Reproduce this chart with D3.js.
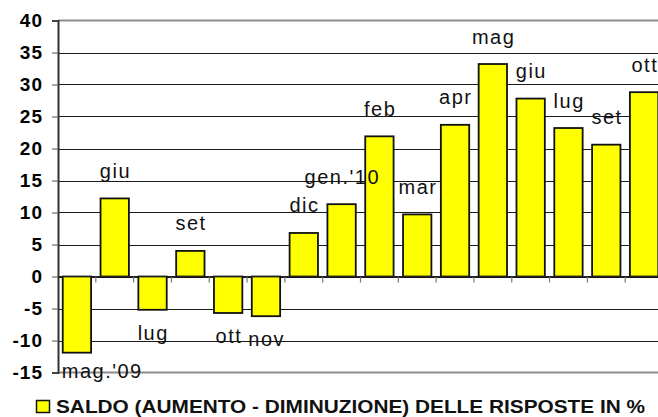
<!DOCTYPE html>
<html>
<head>
<meta charset="utf-8">
<script src="https://cdn.jsdelivr.net/npm/d3@7"></script>
<style>
  body { margin: 0; background: #fff; }
  svg { display: block; font-family: "Liberation Sans", Arial, sans-serif; }
</style>
</head>
<body>
<div id="chart"></div>
<script>
var months = ["mag.'09", "giu", "lug", "set", "ott", "nov", "dic", "gen.'10",
              "feb", "mar", "apr", "mag", "giu", "lug", "set", "ott"];
var saldo = [-11.9, 12.2, -5.2, 4.0, -5.7, -6.2, 6.8, 11.3,
             21.9, 9.7, 23.7, 33.2, 27.8, 23.2, 20.6, 28.8];
var yTicks = [40, 35, 30, 25, 20, 15, 10, 5, 0, -5, -10, -15];
var legendLabel = "SALDO (AUMENTO - DIMINUZIONE) DELLE RISPOSTE IN %";

var svgWidth = 658, svgHeight = 417;
var data = months.map(function(m, i) { return { key: i, label: m, value: saldo[i] }; });

var svg = d3.select("#chart").append("svg")
  .attr("width", svgWidth)
  .attr("height", svgHeight);

var x = d3.scaleBand()
  .domain(data.map(function(d) { return d.key; }))
  .range([58, 663])
  .paddingInner(0.25)
  .paddingOuter(0.125);

var y = d3.scaleLinear()
  .domain([-15, 40])
  .range([372.5, 20.5]);

// horizontal gridlines
svg.append("g")
  .selectAll("line")
  .data(yTicks.filter(function(t) { return t != 40 && t != -15; }))
  .enter().append("line")
  .attr("x1", 58).attr("x2", 663)
  .attr("y1", function(d) { return Math.round(y(d)) + 0.5; })
  .attr("y2", function(d) { return Math.round(y(d)) + 0.5; })
  .attr("stroke", "#1a1a1a")
  .attr("stroke-width", 1);

// plot border top / bottom (gray)
[40, -15].forEach(function(t) {
  svg.append("line")
    .attr("x1", 58).attr("x2", 663)
    .attr("y1", y(t)).attr("y2", y(t))
    .attr("stroke", "#8c8c8c")
    .attr("stroke-width", 2);
});

// y axis
var yAxis = d3.axisLeft(y).tickValues(yTicks).tickSize(6).tickFormat(d3.format("d"));
var gy = svg.append("g")
  .attr("transform", "translate(58,0)")
  .call(yAxis);
gy.select(".domain").attr("stroke", "#333").attr("stroke-width", 2);
gy.selectAll(".tick line").attr("stroke", "#555");
gy.selectAll(".tick text")
  .attr("x", -15)
  .attr("fill", "#000")
  .style("font-size", "19px")
  .style("font-weight", "bold")
  .style("letter-spacing", "1px")
  .text(function(d) { return d < 0 ? "-" + Math.abs(d) : d; });

// x axis ticks at zero (band boundaries)
var bounds = d3.range(1, months.length).map(function(i) { return x(i) - x.step() * x.paddingInner() / 2; });
svg.append("g")
  .selectAll("line")
  .data(bounds)
  .enter().append("line")
  .attr("x1", function(d) { return d; }).attr("x2", function(d) { return d; })
  .attr("y1", y(0)).attr("y2", y(0) + 6)
  .attr("stroke", "#777")
  .attr("stroke-width", 1.2);

// bars
svg.append("g")
  .selectAll("rect")
  .data(data)
  .enter().append("rect")
  .attr("x", function(d) { return x(d.key); })
  .attr("width", x.bandwidth())
  .attr("y", function(d) { return y(Math.max(0, d.value)); })
  .attr("height", function(d) { return Math.abs(y(d.value) - y(0)); })
  .attr("fill", "#ffff00")
  .attr("stroke", "#111")
  .attr("stroke-width", 1.8);

// zero line
svg.append("line")
  .attr("x1", 58).attr("x2", 663)
  .attr("y1", y(0)).attr("y2", y(0))
  .attr("stroke", "#222")
  .attr("stroke-width", 1.2);

// bar labels
svg.append("g")
  .selectAll("text")
  .data(data)
  .enter().append("text")
  .attr("x", function(d, i) {
    // first label was dragged to the right in the original
    return i == 0 ? x(d.key) - 1 : x(d.key) + x.bandwidth() / 2 + 0.75;
  })
  .attr("y", function(d, i) {
    if (i == 0) return y(d.value) + 25;
    return d.value >= 0 ? y(d.value) - 20.5 : y(d.value) + 30;
  })
  .attr("text-anchor", function(d, i) { return i == 0 ? "start" : "middle"; })
  .style("font-size", "20px")
  .style("letter-spacing", "1.5px")
  .attr("fill", "#111")
  .text(function(d) { return d.label; });

// legend
var legend = svg.append("g");
legend.append("rect")
  .attr("x", 36.5).attr("y", 400.5)
  .attr("width", 13).attr("height", 12)
  .attr("fill", "#ffff00")
  .attr("stroke", "#111")
  .attr("stroke-width", 1.5);
legend.append("text")
  .attr("x", 56).attr("y", 413)
  .attr("textLength", 589)
  .attr("lengthAdjust", "spacingAndGlyphs")
  .style("font-size", "19px")
  .style("font-weight", "bold")
  .attr("fill", "#111")
  .text(legendLabel);
</script>
</body>
</html>
